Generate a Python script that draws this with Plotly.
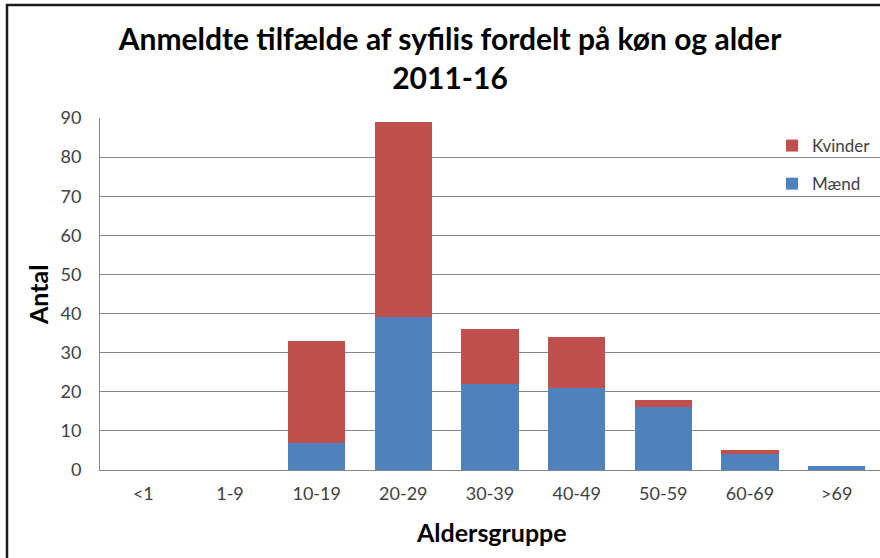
import plotly.graph_objects as go

categories = ["<1", "1-9", "10-19", "20-29", "30-39", "40-49", "50-59", "60-69", ">69"]
maend = [0, 0, 7, 39, 22, 21, 16, 4, 1]
kvinder = [0, 0, 26, 50, 14, 13, 2, 1, 0]
y_ticks = [0, 10, 20, 30, 40, 50, 60, 70, 80, 90]

FONT = "Lato"
W, H = 880, 558
L, R, T, B = 100, 0, 118, 88

fig = go.Figure()
fig.add_trace(go.Bar(name="Mænd", x=categories, y=maend, marker_color="#4F81BD",
                     marker_line_width=0, legendgroup="m", legendrank=2))
fig.add_trace(go.Bar(name="Kvinder", x=categories, y=kvinder, marker_color="#C0504D",
                     marker_line_width=0, legendgroup="k", legendrank=1))

pw = W - L - R
ph = H - T - B

def px(x):
    return (x - L) / pw

def py(y):
    return (H - B - y) / ph

fig.update_layout(
    width=W, height=H,
    margin=dict(l=L, r=R, t=T, b=B, autoexpand=False),
    barmode="stack",
    bargap=0.34,
    plot_bgcolor="white",
    paper_bgcolor="white",
    font=dict(family=FONT, color="#404040", size=18),
    title=dict(text="<b>Anmeldte tilfælde af syfilis fordelt på køn og alder<br>2011-16</b>",
               x=450 / W, xanchor="center", y=1 - 50 / H, yanchor="middle",
               font=dict(family=FONT, size=30, color="#000000")),
    xaxis=dict(showgrid=False, showline=True, linecolor="#868686", linewidth=1,
               ticks="", tickfont=dict(size=18, color="#404040"), ticklabelstandoff=7,
               automargin=False),
    yaxis=dict(range=[0, 90], tickvals=y_ticks, showgrid=True, gridcolor="#868686", gridwidth=1,
               showline=True, linecolor="#868686", linewidth=1, ticks="", zeroline=False,
               tickfont=dict(size=18, color="#404040"), ticklabelstandoff=14,
               automargin=False),
    legend=dict(x=px(772), y=py(128), xanchor="left", yanchor="top",
                traceorder="grouped", tracegroupgap=13,
                bgcolor="rgba(0,0,0,0)", font=dict(size=17, color="#404040"),
                itemwidth=30),
    annotations=[
        dict(text="<b>Antal</b>", xref="paper", yref="paper", x=px(38), y=py(295),
             xanchor="center", yanchor="middle", textangle=-90, showarrow=False,
             font=dict(size=25, color="#000000")),
        dict(text="<b>Aldersgruppe</b>", xref="paper", yref="paper", x=px(491), y=py(532),
             xanchor="center", yanchor="middle", showarrow=False,
             font=dict(size=25, color="#000000")),
    ],
    shapes=[dict(type="rect", xref="paper", yref="paper",
                 x0=px(7), x1=px(884), y0=py(H + 5), y1=py(5),
                 line=dict(color="#1a1a1a", width=2.5), fillcolor="rgba(0,0,0,0)", layer="above")],
)

fig.write_html("out.html", config={"displayModeBar": False},
               post_script="document.body.style.margin='0';document.body.style.overflow='hidden';")
